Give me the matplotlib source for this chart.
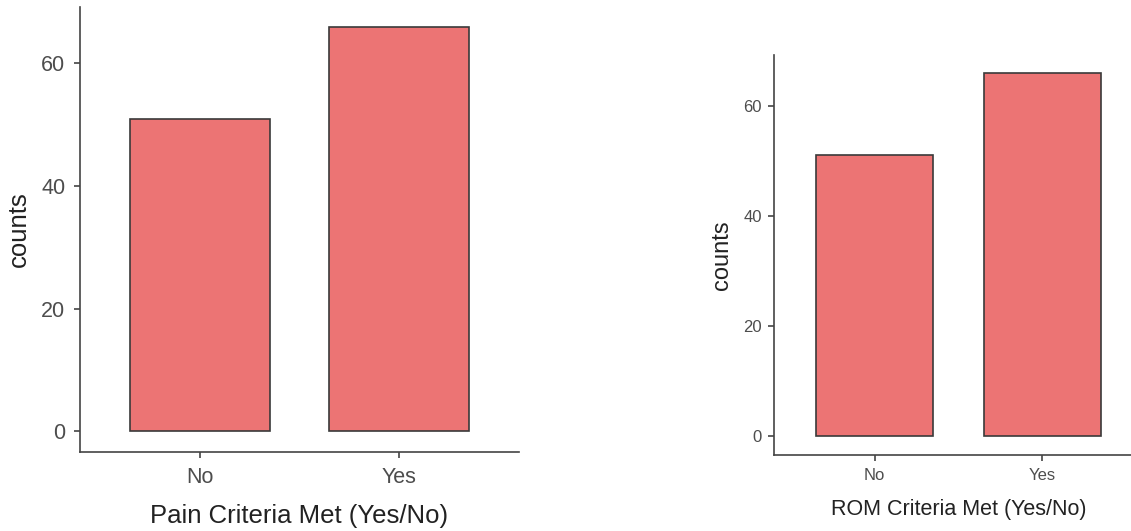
import matplotlib
matplotlib.use("Agg")
import matplotlib.pyplot as plt

categories = ["No", "Yes"]
pain_counts = [51, 66]
rom_counts = [51, 66]
yticks = [0, 20, 40, 60]

W, H = 1131, 531
plt.rcParams['font.family'] = ['Liberation Sans', 'DejaVu Sans']
fig = plt.figure(figsize=(W / 100, H / 100), dpi=100)

bar_color = "#EC7474"
edge_color = "#3a3a3a"
axis_color = "#444444"
tick_text = "#4d4d4d"


def panel(rect, counts, xlabel, tick_fs, xlabel_fs, ylabel_fs, xpad, ypad, ylab_x, xlab_y):
    ax = fig.add_axes(rect)
    x = list(range(len(categories)))
    ax.bar(x, counts, width=0.7, color=bar_color, edgecolor=edge_color, linewidth=1.2)
    ax.set_xlim(-0.6, 1.6)
    ax.set_ylim(-3.4, 69.2)
    ax.set_xticks(x)
    ax.set_xticklabels(categories)
    ax.set_yticks(yticks)
    for s in ["top", "right"]:
        ax.spines[s].set_visible(False)
    for s in ["left", "bottom"]:
        ax.spines[s].set_color(axis_color)
        ax.spines[s].set_linewidth(1.2)
    ax.tick_params(axis="both", length=4.5, width=1.2, color=axis_color,
                   labelcolor=tick_text, labelsize=tick_fs)
    ax.tick_params(axis="x", pad=xpad)
    ax.tick_params(axis="y", pad=ypad)
    ax.set_xlabel(xlabel, fontsize=xlabel_fs, color="#222222")
    ax.set_ylabel("counts", fontsize=ylabel_fs, color="#222222")
    ax.yaxis.set_label_coords(ylab_x, 0.5)
    ax.xaxis.set_label_coords(0.5, xlab_y)
    return ax


# left panel (pixel geometry converted to figure fractions)
panel([80 / W, (H - 452) / H, 439 / W, 445 / H], pain_counts,
      "Pain Criteria Met (Yes/No)", 15.5, 18.5, 18.5, 6.0, 6.0, -0.112, -0.117)
# right panel extends beyond the right edge of the figure
panel([774 / W, (H - 455) / H, 369 / W, 400 / H], rom_counts,
      "ROM Criteria Met (Yes/No)", 12, 15.5, 17, 4.5, 4.3, -0.111, -0.11)

fig.savefig("out.png", dpi=100)
